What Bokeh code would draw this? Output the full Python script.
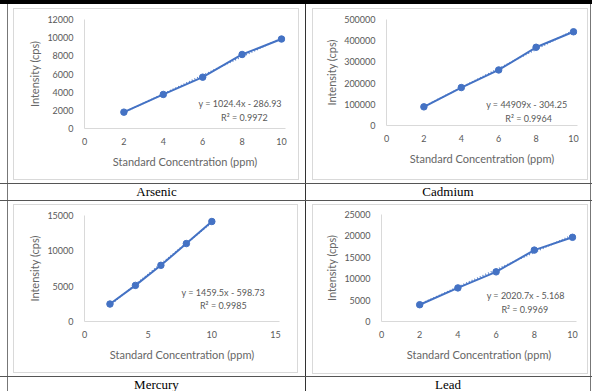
from bokeh.plotting import figure
from bokeh.layouts import column, row
from bokeh.models import FixedTicker, Label, NumeralTickFormatter, Range1d, Div, Spacer
from bokeh.embed import file_html
from bokeh.resources import INLINE

# ---------------- data ----------------
conc = [2, 4, 6, 8, 10]
arsenic = [1800, 3750, 5650, 8150, 9850]
cadmium = [88000, 179000, 262000, 369000, 442000]
mercury = [2470, 5110, 7950, 11030, 14150]
lead = [3920, 7850, 11600, 16680, 19670]

names = ["Arsenic", "Cadmium", "Mercury", "Lead"]
slopes = [1024.4, 44909, 1459.5, 2020.7]
intercepts = [-286.93, -304.25, -598.73, -5.168]
equations = ["y = 1024.4x - 286.93", "y = 44909x - 304.25",
             "y = 1459.5x - 598.73", "y = 2020.7x - 5.168"]
r2_labels = ["R\u00b2 = 0.9972", "R\u00b2 = 0.9964", "R\u00b2 = 0.9985", "R\u00b2 = 0.9969"]
x_ticks = [[0, 2, 4, 6, 8, 10], [0, 2, 4, 6, 8, 10], [0, 5, 10, 15], [0, 2, 4, 6, 8, 10]]
y_ticks = [[0, 2000, 4000, 6000, 8000, 10000, 12000],
           [0, 100000, 200000, 300000, 400000, 500000],
           [0, 5000, 10000, 15000],
           [0, 5000, 10000, 15000, 20000, 25000]]
series = [arsenic, cadmium, mercury, lead]
x_title = "Standard Concentration (ppm)"
y_title = "Intensity (cps)"

# ---------------- styling / layout ----------------
BLUE = "#4472C4"
GREY_TXT = "#595959"
TITLE_TXT = "#666666"
AX_GREY = "#d9d9d9"
TABLE = "#555555"
FONT = "Lato"
PAD = 4  # px of axis beyond the last tick so end markers are not clipped

# cell: origin/size in page pixels; box = grey chart-area border lines (l, r, t, b);
# mb = figure borders (left, right-to-last-tick, top, bottom)
cells = [
    dict(cx=8, cy=4, cw=297, ch=179, box=(13, 298, 8, 179), mb=(70, 17, 10, 51),
         eq=((7.9, 2752), (8.12, 1211))),
    dict(cx=306, cy=4, cw=284, ch=179, box=(312, 587, 8, 179), mb=(73, 14, 10, 54),
         eq=((7.5, 99000), (7.6, 33000))),
    dict(cx=8, cy=201, cw=297, ch=175, box=(13, 297, 204, 372), mb=(70, 22, 10, 51),
         eq=((10.9, 4070), (10.9, 2230))),
    dict(cx=306, cy=201, cw=284, ch=175, box=(312, 587, 204, 373), mb=(68, 15, 9, 52),
         eq=((7.55, 6110), (7.5, 2750))),
]


def bar(w, h, color):
    return Div(text="", width=w, height=h, margin=0,
               styles={"background-color": color, "overflow": "hidden"})


def gap(w, h):
    return Spacer(width=w, height=h, margin=0)


def make_chart(i):
    c = cells[i]
    bl, br, bt, bb = c["box"]
    fw, fh = br - bl - 1, bb - bt - 1
    ml, mr, mt, mbm = c["mb"]
    xs, xe = x_ticks[i][0], x_ticks[i][-1]
    plot_w = fw - ml - mr
    p = figure(width=fw, height=fh, output_backend="svg", toolbar_location=None,
               x_range=Range1d(xs, xe + PAD * (xe - xs) / plot_w),
               y_range=Range1d(y_ticks[i][0], y_ticks[i][-1]),
               min_border_left=ml, min_border_right=mr - PAD,
               min_border_top=mt, min_border_bottom=mbm, margin=0)
    p.outline_line_color = None
    p.grid.visible = False
    p.background_fill_color = "white"
    p.border_fill_color = "white"

    for ax in (p.xaxis[0], p.yaxis[0]):
        ax.axis_line_color = AX_GREY
        ax.major_tick_line_color = None
        ax.minor_tick_line_color = None
        ax.major_tick_out = 0
        ax.major_tick_in = 0
        ax.minor_tick_out = 0
        ax.major_label_text_font = FONT
        ax.major_label_text_font_size = "9px"
        ax.major_label_text_color = GREY_TXT
        ax.axis_label_text_font = FONT
        ax.axis_label_text_font_size = "11px"
        ax.axis_label_text_color = TITLE_TXT
        ax.axis_label_text_font_style = "normal"
    p.xaxis.ticker = FixedTicker(ticks=x_ticks[i])
    p.yaxis.ticker = FixedTicker(ticks=y_ticks[i])
    p.yaxis.formatter = NumeralTickFormatter(format="0")
    p.xaxis.axis_label = x_title
    p.yaxis.axis_label = y_title
    p.xaxis.major_label_standoff = 9
    p.xaxis.axis_label_standoff = 7
    p.yaxis.major_label_standoff = 11
    p.yaxis.axis_label_standoff = 3

    # linear trendline from the fitted equation
    x0, x1 = conc[0], conc[-1]
    p.line([x0, x1], [slopes[i] * x0 + intercepts[i], slopes[i] * x1 + intercepts[i]],
           line_color=BLUE, line_width=1.5, line_dash="1 2", line_alpha=0.9)
    p.line(conc, series[i], line_color=BLUE, line_width=2)
    p.scatter(conc, series[i], size=6.5, fill_color=BLUE, line_color=BLUE)

    (ex1, ey1), (ex2, ey2) = c["eq"]
    for (ex, ey, t) in ((ex1, ey1, equations[i]), (ex2, ey2, r2_labels[i])):
        p.add_layout(Label(x=ex, y=ey, text=t, text_align="center", text_baseline="middle",
                           text_font=FONT, text_font_size="9px", text_color=GREY_TXT))

    # chart-area grey border built around the figure
    boxed = column(bar(fw + 2, 1, AX_GREY),
                   row(bar(1, fh, AX_GREY), p, bar(1, fh, AX_GREY), spacing=0),
                   bar(fw + 2, 1, AX_GREY), spacing=0)
    left_gap = bl - c["cx"]
    right_gap = c["cx"] + c["cw"] - br - 1
    top_gap = bt - c["cy"]
    bottom_gap = c["cy"] + c["ch"] - bb - 1
    parts = []
    if top_gap > 0:
        parts.append(gap(c["cw"], top_gap))
    parts.append(row(gap(left_gap, fh + 2), boxed, gap(right_gap, fh + 2), spacing=0))
    if bottom_gap > 0:
        parts.append(gap(c["cw"], bottom_gap))
    return column(*parts, spacing=0)


def caption(i, w, h):
    return Div(text=names[i], width=w, height=h, margin=0,
               styles={"font-family": "Liberation Serif", "font-size": "13px",
                       "text-align": "center", "line-height": "16px", "color": "black",
                       "overflow": "hidden", "background-color": "white"})


W = 592
H1, HC1, H2, HC2 = 179, 16, 175, 14


def vl(h, color=TABLE):
    return bar(1, h, color)


row1 = row(gap(7, H1), vl(H1, "#777777"), make_chart(0), vl(H1, "#333333"), make_chart(1),
           vl(H1, "#777777"), gap(1, H1), spacing=0)
cap1 = row(gap(7, HC1), vl(HC1, "#777777"), caption(0, 297, HC1), vl(HC1, "#333333"),
           caption(1, 284, HC1), vl(HC1, "#777777"), gap(1, HC1), spacing=0)
row2 = row(gap(7, H2), vl(H2, "#777777"), make_chart(2), vl(H2, "#333333"), make_chart(3),
           vl(H2, "#777777"), gap(1, H2), spacing=0)
cap2 = row(gap(7, HC2), vl(HC2, "#777777"), caption(2, 297, HC2), vl(HC2, "#333333"),
           caption(3, 284, HC2), vl(HC2, "#777777"), gap(1, HC2), spacing=0)

layout = column(bar(W, 4, "black"), row1, bar(W, 1, TABLE), cap1, bar(W, 1, TABLE),
                row2, bar(W, 1, TABLE), cap2, spacing=0)

with open("out.html", "w") as f:
    f.write(file_html(layout, INLINE))
